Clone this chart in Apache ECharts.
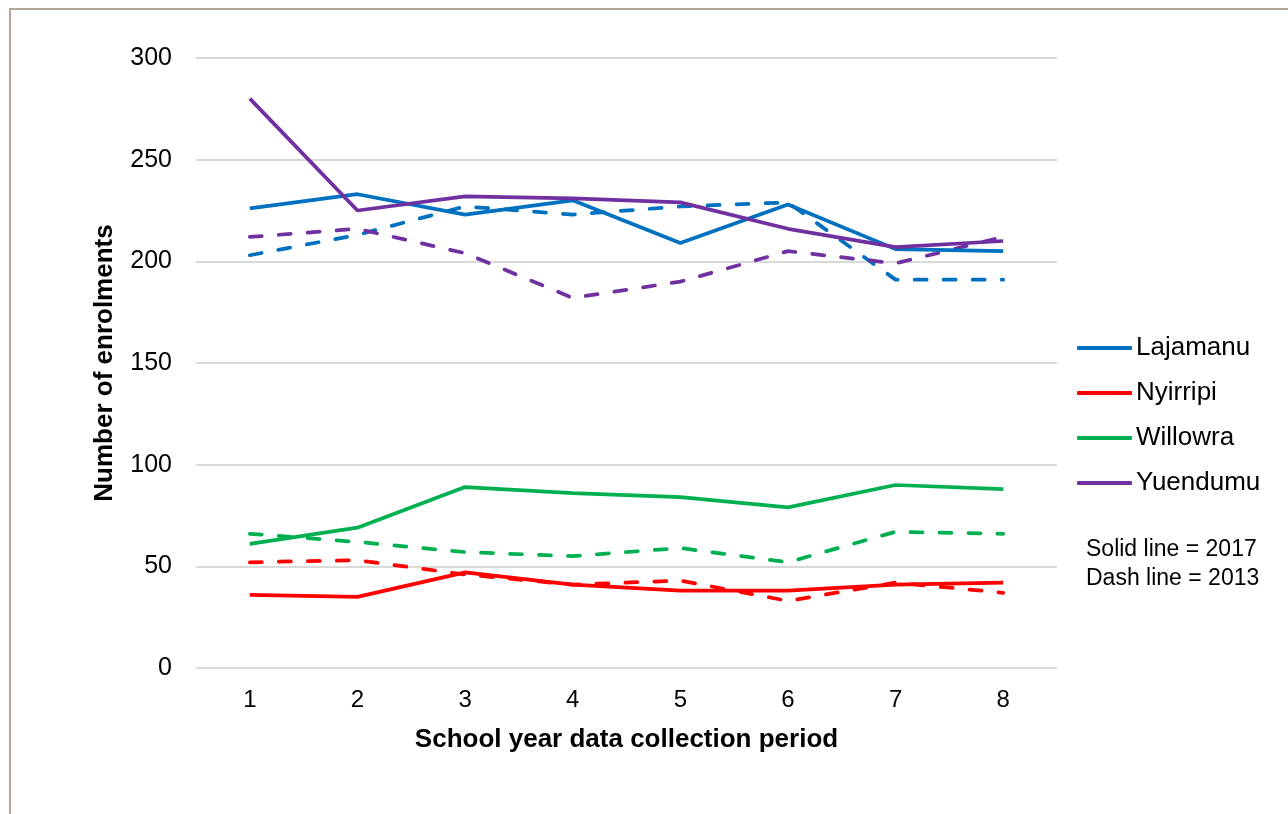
<!DOCTYPE html>
<html>
<head>
<meta charset="utf-8">
<script src="https://cdn.jsdelivr.net/npm/echarts@6/dist/echarts.min.js"></script>
<style>
  html, body { margin: 0; padding: 0; background: #fff; }
  #frame { position: absolute; left: 9px; top: 8px; width: 1400px; height: 900px;
           border-left: 2px solid #B3A69A; border-top: 2px solid #B3A69A; }
  #chart { position: absolute; left: 0; top: 0; width: 1288px; height: 814px; }
</style>
</head>
<body>
<div id="frame"></div>
<div id="chart"></div>
<script>
"use strict";
// 数据
var periods = ["1", "2", "3", "4", "5", "6", "7", "8"];
var communities = ["Lajamanu", "Nyirripi", "Willowra", "Yuendumu"];
var colors = ["#0070C0", "#FF0000", "#00B050", "#7030A0"];

var lajamanu2017 = [226, 233, 223, 230, 209, 228, 206, 205];
var nyirripi2017 = [36, 35, 47, 41, 38, 38, 41, 42];
var willowra2017 = [61, 69, 89, 86, 84, 79, 90, 88];
var yuendumu2017 = [280, 225, 232, 231, 229, 216, 207, 210];

var lajamanu2013 = [203, 213, 227, 223, 227, 229, 191, 191];
var nyirripi2013 = [52, 53, 46, 41, 43, 33, 42, 37];
var willowra2013 = [66, 62, 57, 55, 59, 52, 67, 66];
var yuendumu2013 = [212, 216, 204, 182, 190, 205, 199, 212];

var data2017 = [lajamanu2017, nyirripi2017, willowra2017, yuendumu2017];
var data2013 = [lajamanu2013, nyirripi2013, willowra2013, yuendumu2013];

var font = "'Liberation Sans', Arial, sans-serif";

var series = [];
communities.forEach(function (name, i) {
    series.push({
        name: name + " 2013",
        type: "line",
        data: data2013[i],
        symbol: "none",
        color: colors[i],
        lineStyle: { width: 3.75, type: [12, 17], cap: "round", color: colors[i] }
    });
});
communities.forEach(function (name, i) {
    series.push({
        name: name,
        type: "line",
        data: data2017[i],
        symbol: "none",
        color: colors[i],
        lineStyle: { width: 3.75, color: colors[i] }
    });
});

var chart = echarts.init(document.getElementById("chart"), null, { renderer: "canvas" });
chart.setOption({
    animation: false,
    textStyle: { fontFamily: font },
    grid: { left: 196, right: 231, top: 58, bottom: 146, containLabel: false },
    legend: {
        data: communities,
        orient: "vertical",
        left: 1077,
        top: 334,
        padding: 0,
        icon: "roundRect",
        itemWidth: 55,
        itemHeight: 4,
        itemGap: 17,
        textStyle: { fontFamily: font, fontSize: 26, color: "#000", lineHeight: 28, padding: [0, 0, 0, -1] }
    },
    xAxis: {
        type: "category",
        data: periods,
        boundaryGap: true,
        axisLine: { show: false },
        axisTick: { show: false },
        axisLabel: { color: "#000", fontSize: 24, fontFamily: font, margin: 20 },
        name: "School year data collection period",
        nameLocation: "middle",
        nameGap: 59,
        nameTextStyle: { color: "#000", fontSize: 26, fontWeight: "bold", fontFamily: font }
    },
    yAxis: {
        type: "value",
        min: 0,
        max: 300,
        interval: 50,
        axisLine: { show: false },
        axisTick: { show: false },
        axisLabel: { color: "#000", fontSize: 25, fontFamily: font, margin: 24 },
        splitLine: { lineStyle: { color: "#D9D9D9", width: 2 } },
        name: "Number of enrolments",
        nameLocation: "middle",
        nameGap: 78,
        nameTextStyle: { color: "#000", fontSize: 26, fontWeight: "bold", fontFamily: font }
    },
    graphic: [
        { type: "text", left: 1086, top: 535,
          style: { text: "Solid line = 2017\nDash line = 2013", fill: "#000",
                   font: "23px " + font, lineHeight: 29 } }
    ],
    series: series
});
</script>
</body>
</html>
